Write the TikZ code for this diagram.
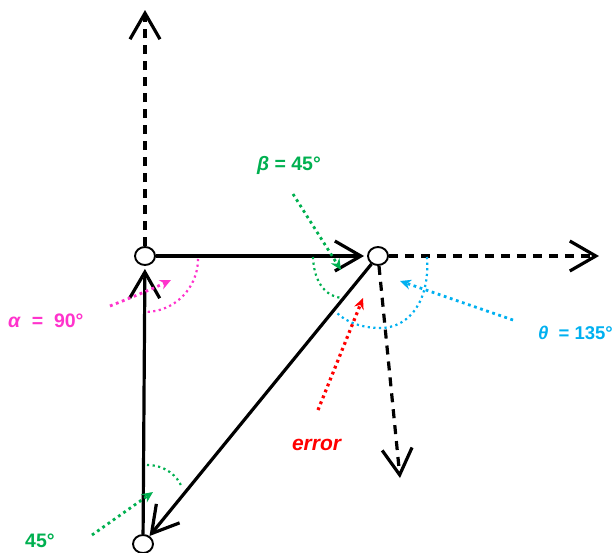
\documentclass[tikz,border=0pt]{standalone}
\usepackage{fontspec}
\setmainfont{Liberation Sans}
\usetikzlibrary{arrows.meta,shapes.geometric}
\definecolor{cpink}{RGB}{255,51,204}
\definecolor{cgreen}{RGB}{0,176,80}
\definecolor{cblue}{RGB}{0,176,240}
\definecolor{cred}{RGB}{255,0,0}
\begin{document}
\begin{tikzpicture}[x=1pt,y=-1pt,
  pnt/.style={draw,ellipse,line width=1.9pt,minimum width=20pt,minimum height=18pt,inner sep=0pt,fill=white},
  vec/.style={line width=3.2pt,-{Straight Barb[length=26pt,width=30pt]}},
  vecdash/.style={vec,dash pattern=on 9pt off 7pt},
  anglearc/.style={line width=2.2pt,dash pattern=on 2.2pt off 3.4pt},
  pointer/.style={line width=2.8pt,dash pattern=on 2.8pt off 3.6pt,-{Stealth[length=11pt,width=10pt]}},
  lbl/.style={font=\fontsize{19.5}{22}\selectfont\bfseries,inner sep=0pt}]
\useasboundingbox (0,0) rectangle (615,552);
% points
\node[pnt] (A) at (145,256) {};
\node[pnt] (B) at (378,256) {};
\node[pnt] (C) at (143,544) {};
\coordinate (Atop) at (145,10);
\coordinate (Bright) at (599,256);
\coordinate (Bdown) at (400,478);
% vectors
\draw[vecdash] (A) -- (Atop);
\draw[vec,shorten >=3pt] (A) -- (B);
\draw[vecdash] (B) -- (Bright);
\draw[vecdash] (B) -- (Bdown);
\draw[vec,shorten >=3pt] (C) -- (A);
\draw[vec] (B) -- (C);
% angle arcs
\draw[anglearc,cpink] (198,259) arc[start angle=0,end angle=90,radius=53];
\draw[anglearc,cgreen] (313,257) .. controls (314,285) and (328,297) .. (342,298);
\draw[anglearc,cblue] (427,257) .. controls (430,300) and (410,328) .. (380,328) .. controls (362,328) and (346,322) .. (337,313);
\draw[anglearc,cgreen] (147,465) .. controls (165,465) and (178,476) .. (182,488);
% pointers
\coordinate (pa0) at (110,306); \coordinate (pa1) at (171,280);
\coordinate (pb0) at (293,194); \coordinate (pb1) at (341,270);
\coordinate (pt0) at (513,320); \coordinate (pt1) at (400,281);
\coordinate (pe0) at (318,410); \coordinate (pe1) at (363,298);
\coordinate (pc0) at (92,535);  \coordinate (pc1) at (153,492);
\draw[pointer,cpink] (pa0) .. controls (130,298) and (150,290) .. (pa1);
\draw[pointer,cgreen] (pb0) -- (pb1);
\draw[pointer,cblue] (pt0) -- (pt1);
\draw[pointer,cred,line width=3.2pt] (pe0) -- (pe1);
\draw[pointer,cgreen] (pc0) -- (pc1);
% labels
\node[lbl,cpink,anchor=west] (la) at (8,321) {\textit{α}\ \ =\ \ 90°};
\node[lbl,cgreen] (lb) at (289,165) {\textit{β} = 45°};
\node[lbl,cblue,anchor=east,font=\fontsize{18.5}{22}\selectfont\bfseries] (lt) at (613,333) {\textit{θ}\ \ = 135°};
\node[lbl,cred,font=\fontsize{21}{24}\selectfont\bfseries] (le) at (317,445) {\textit{error}};
\node[lbl,cgreen,anchor=west] (lc) at (25,541) {45°};
\end{tikzpicture}
\end{document}
